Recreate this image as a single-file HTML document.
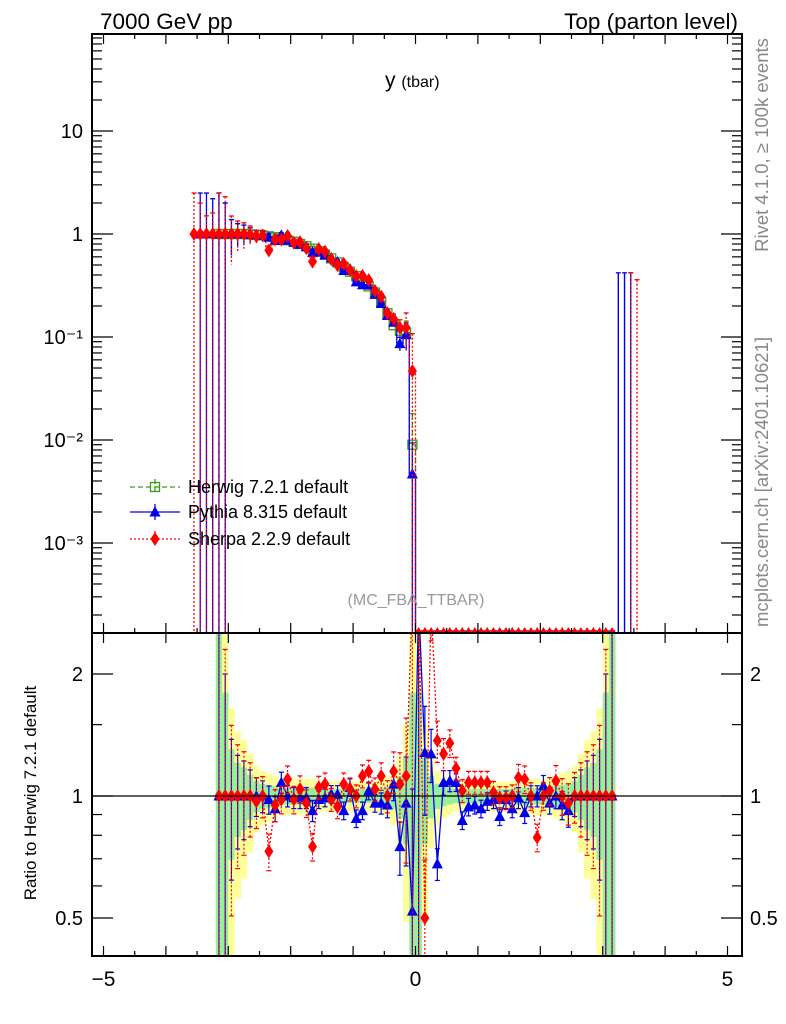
<!DOCTYPE html>
<html><head><meta charset="utf-8"><style>
html,body{margin:0;padding:0;background:#fff;}
svg{display:block;font-family:"Liberation Sans",Arial,sans-serif;}
</style></head><body>
<svg id="chart" width="786" height="1024" viewBox="0 0 786 1024">
<defs>
<clipPath id="clipMain"><rect x="92" y="34" width="650" height="599"/></clipPath>
<clipPath id="clipRatio"><rect x="92" y="633" width="650" height="323"/></clipPath>
</defs>
<g id="bands" clip-path="url(#clipRatio)"></g>
<g id="mainMarks" clip-path="url(#clipMain)"></g>
<g id="ratioMarks" clip-path="url(#clipRatio)"></g>
<g id="axes"></g>
<text x="100" y="29" font-size="22.5">7000 GeV pp</text>
<text x="738" y="29" font-size="22.5" text-anchor="end">Top (parton level)</text>
<text x="385" y="87" font-size="21">y <tspan font-size="16">(tbar)</tspan></text>
<text x="416" y="605" font-size="16" fill="#999" text-anchor="middle">(MC_FBA_TTBAR)</text>
<text transform="translate(768,145) rotate(-90)" font-size="18.5" fill="#888" text-anchor="middle">Rivet 4.1.0, ≥ 100k events</text>
<text transform="translate(768,482) rotate(-90)" font-size="18.5" fill="#888" text-anchor="middle">mcplots.cern.ch [arXiv:2401.10621]</text>
<text transform="translate(36,793) rotate(-90)" font-size="17" text-anchor="middle">Ratio to Herwig 7.2.1 default</text>
<g id="legend"></g>
</svg>
<script>
// bins of width 0.1 from -3.6 to 3.6 (main plot), centers -3.55 + 0.1*i
const binCount = 72;
const binStart = -3.6;
const binWidth = 0.1;
// Herwig main values (index 0..71); 0 = empty bin, tiny = below axis
const herwig = [0,0,0,0,
 1.0,1.0,1.0,1.0,1.0,0.99,0.98,0.97,0.95,0.93,0.9,0.87,0.84,0.8,0.76,0.72,0.68,0.63,0.58,0.53,0.48,0.43,0.39,0.35,0.31,0.27,0.22,0.17,0.13,0.115,0.11,0.009,
 1e-5,1e-5,1e-5,1e-5,1e-5,1e-5,1e-5,1e-5,1e-5,1e-5,1e-5,1e-5,1e-5,1e-5,1e-5,1e-5,1e-5,1e-5,1e-5,1e-5,1e-5,1e-5,1e-5,1e-5,1e-5,1e-5,1e-5,1e-5,1e-5,1e-5,1e-5,1e-5,
 0,0,0,0];
const pythiaLead = [0,1.0,1.0,1.0];
const sherpaLead = [1.0,1.0,1.0,1.0];
const pythiaLeadTop = [0,2.5,2.5,2.2];
const sherpaLeadTop = [2.5,2.0,1.5,1.6];
// extra spike error bars at the far right of main plot: [bin, top]
const pythiaSpikes = [[68,0.42],[69,0.42],[70,0.42]];
const sherpaSpikes = [[70,0.42],[71,0.36]];
// ratio bins k=0..63 correspond to main bins 4..67
const ratioPythia = [1,1,1,1,1,1,1.0,1.0,0.98,0.93,1.08,1.0,0.99,0.99,0.99,0.92,0.98,0.99,1.01,1.01,0.92,1.05,0.88,0.92,1.03,0.96,0.96,0.95,1.07,0.75,0.96,0.52,
 3.0,1.28,1.27,0.68,1.08,1.09,1.08,0.87,0.94,0.95,0.93,0.97,0.98,0.89,0.98,0.93,0.99,0.91,1.0,1.0,1.06,0.96,1.0,0.95,0.92,1,1,1,1,1,1,1];
const ratioSherpa = [1,1,1,1,1,1,0.97,1.0,0.73,0.95,0.98,1.1,0.98,1.04,0.96,0.75,1.05,1.07,0.98,0.94,1.07,1.04,1.0,1.12,1.15,1.04,1.12,1.0,1.15,1.07,1.12,5.2,
 3.0,0.5,3.0,1.37,1.27,1.35,1.17,1.03,1.08,1.08,1.08,1.08,1.02,0.99,0.99,1.0,1.11,1.1,1.0,0.79,1.0,1.03,1.09,1.0,0.96,1,1,1,1,1,1,1];
// relative uncertainties per ratio bin
const relErr = [3,1.0,0.38,0.26,0.22,0.16,0.11,0.09,0.08,0.07,0.06,0.06,0.06,0.06,0.06,0.06,0.05,0.05,0.05,0.05,0.05,0.05,0.05,0.05,0.05,0.05,0.06,0.07,0.09,0.15,0.3,1.0,
 1.0,0.3,0.15,0.09,0.07,0.06,0.05,0.05,0.05,0.05,0.05,0.05,0.05,0.05,0.05,0.05,0.06,0.06,0.06,0.06,0.06,0.06,0.07,0.08,0.09,0.11,0.16,0.22,0.26,0.38,1.0,3];
const xTicks = [-5,0,5];
const mainTickLabels = ["10","1","10⁻¹","10⁻²","10⁻³"];
const mainTickValues = [10,1,0.1,0.01,0.001];
const ratioTickValues = [2,1,0.5];
const ratioTickLabels = ["2","1","0.5"];

const NS="http://www.w3.org/2000/svg";
const X0=415.5, XS=62.4, L=92, R=742, MT=34, MB=633, RB=956;
const xs=c=>X0+XS*c;
const ym=v=>v>0?234-103*Math.log10(v):MB+50;
const yr=r=>r>0?796-122*Math.log2(r):RB+50;
const cl=(y,a,b)=>Math.max(a,Math.min(b,y));
function mk(tag,attrs,parent){const e=document.createElementNS(NS,tag);for(const k in attrs)e.setAttribute(k,attrs[k]);parent.appendChild(e);return e;}
const gMain=document.getElementById('mainMarks'), gRatio=document.getElementById('ratioMarks'), gBand=document.getElementById('bands'), gAx=document.getElementById('axes'), gLeg=document.getElementById('legend');
const center=i=>binStart+binWidth*(i+0.5);

const pythia=[], sherpa=[];
for(let i=0;i<binCount;i++){
  if(i<4){pythia.push(pythiaLead[i]);sherpa.push(sherpaLead[i]);}
  else if(i<68){pythia.push(herwig[i]*ratioPythia[i-4]);sherpa.push(herwig[i]*ratioSherpa[i-4]);}
  else {pythia.push(0);sherpa.push(0);}
}
function mainY(v){return v>0?cl(ym(v),MT,MB-2):null;}

function marker(type,x,y,parent,color){
  let e;
  if(type==='sq') e=mk('rect',{x:x-4.5,y:y-4.5,width:9,height:9,fill:'none',stroke:color,'stroke-width':1.3},parent);
  else if(type==='tri') e=mk('path',{d:`M${x-5.5},${y+4.5}L${x+5.5},${y+4.5}L${x},${y-6}Z`,fill:color},parent);
  else e=mk('path',{d:`M${x},${y-7}L${x+4.5},${y}L${x},${y+7}L${x-4.5},${y}Z`,fill:color},parent);
  return e;
}
const series=[
 {name:'herwig',vals:herwig,color:'#3c9a1c',dash:'5,3',m:'sq',ef:1.0,ratio:null},
 {name:'pythia',vals:pythia,color:'#0000ee',dash:'',m:'tri',ef:1.0,ratio:ratioPythia},
 {name:'sherpa',vals:sherpa,color:'#ff0000',dash:'2,2',m:'dia',ef:1.3,ratio:ratioSherpa}
];

// bands
for(let k=0;k<64;k++){
  const x1=xs(center(k+4)-0.05), w=XS*binWidth;
  const ey=relErr[k]*1.7, eg=relErr[k]*0.8;
  const y1=cl(yr(1+ey),633,RB), y2=cl(yr(Math.max(1-ey,0.01)),633,RB);
  const r1=mk('rect',{x:x1,y:y1,width:w+0.3,height:y2-y1,fill:'#ffff99'},gBand);
  
  
  const g1=cl(yr(1+eg),633,RB), g2=cl(yr(Math.max(1-eg,0.01)),633,RB);
  const r2=mk('rect',{x:x1,y:g1,width:w+0.3,height:g2-g1,fill:'#99ee99'},gBand);
  
  
}

series.forEach(s=>{
  let d='';let prev=null;
  for(let i=0;i<binCount;i++){
    const y=mainY(s.vals[i]);
    if(y===null){prev=null;continue;}
    const xa=xs(center(i)-0.05), xb=xs(center(i)+0.05);
    d+= (prev===null?`M${xa},${y}`:`L${xa},${y}`)+`L${xb},${y}`;prev=y;
  }
  const p=mk('path',{d:d,fill:'none',stroke:s.color,'stroke-width':1.3,'stroke-dasharray':s.dash},gMain);
  
  
  for(let i=0;i<binCount;i++){
    const v=s.vals[i]; if(!(v>0)) continue;
    const x=xs(center(i));
    let top,bot;
    if(i<4){top=(s.name==='pythia'?pythiaLeadTop:sherpaLeadTop)[i];bot=0;}
    else if(i<68){const e=relErr[i-4]*s.ef;top=Math.min(v*(1+e),2.5);bot=v*(1-e);}
    else {top=v;bot=v;}
    if(v>0.001 && top>v){
      const ya=cl(ym(top),MT,MB), yb=bot>0?cl(ym(bot),MT,MB):MB;
      const eb=mk('line',{x1:x,x2:x,y1:ya,y2:yb,stroke:s.color,'stroke-width':1.3,'stroke-dasharray':s.dash},gMain);
      
      
      mk('line',{x1:x-2.5,x2:x+2.5,y1:ya,y2:ya,stroke:s.color,'stroke-width':1.3},gMain);
    }
    const y=mainY(v);
    if(v>1e-4){const m=marker(s.m,x,y,gMain,s.color);
      
      }
    else if(s.name==='sherpa'){const m=mk('path',{d:`M${x-3},${MB-1}L${x+3},${MB-1}L${x},${MB-6}Z`,fill:s.color},gMain);
      
      }
  }
  const sp=s.name==='pythia'?pythiaSpikes:(s.name==='sherpa'?sherpaSpikes:[]);
  sp.forEach(([i,t])=>{
    const x=xs(center(i)); const ya=ym(t);
    const l=mk('line',{x1:x,x2:x,y1:ya,y2:MB,stroke:s.color,'stroke-width':1.4,'stroke-dasharray':s.dash},gMain);
    
    
    mk('line',{x1:x-2.5,x2:x+2.5,y1:ya,y2:ya,stroke:s.color,'stroke-width':1.3},gMain);
  });
  if(s.ratio){
    let pts=[];
    for(let k=0;k<64;k++){
      const r=s.ratio[k], x=xs(center(k+4)), e=relErr[k]*s.ef;
      const y=yr(r); pts.push(x+','+cl(y,600,990));
      const ya=yr(r*(1+e)), yb=r*(1-e)>0?yr(r*(1-e)):RB+20;
      const eb=mk('line',{x1:x,x2:x,y1:ya,y2:yb,stroke:s.color,'stroke-width':1.2,'stroke-dasharray':s.dash},gRatio);
      
      
      mk('line',{x1:x-2.5,x2:x+2.5,y1:ya,y2:ya,stroke:s.color,'stroke-width':1.2},gRatio);
      mk('line',{x1:x-2.5,x2:x+2.5,y1:yb,y2:yb,stroke:s.color,'stroke-width':1.2},gRatio);
    }
    const pl=mk('polyline',{points:pts.join(' '),fill:'none',stroke:s.color,'stroke-width':1.3,'stroke-dasharray':s.dash},gRatio);
    
    
    for(let k=0;k<64;k++){
      const m=marker(s.m,xs(center(k+4)),yr(s.ratio[k]),gRatio,s.color);
      
      
    }
  }
});
const ul=mk('line',{x1:L,x2:R,y1:yr(1),y2:yr(1),stroke:'#000','stroke-width':1.3},gRatio);



[[MT,MB,'main-frame'],[MB,RB,'ratio-frame']].forEach(([a,b,n])=>{
  const r=mk('rect',{x:L,y:a,width:R-L,height:b-a,fill:'none',stroke:'#000','stroke-width':2},gAx);
  
  
});
for(let t=-5;t<=5.01;t+=0.5){
  const x=xs(t), major=Math.abs(t-Math.round(t))<1e-6, len=major?10:5;
  [[MB,-1],[RB,-1],[MT,1]].forEach(([y,dir])=>mk('line',{x1:x,x2:x,y1:y,y2:y+dir*len,stroke:'#000','stroke-width':1.2},gAx));
  if(major) mk('line',{x1:x,x2:x,y1:MB,y2:MB+len,stroke:'#000','stroke-width':1.2},gAx);
}
xTicks.forEach(t=>{
  const tx=mk('text',{x:xs(t),y:986,'font-size':21,'text-anchor':'middle'},gAx);
  tx.textContent=(t<0?'−':'')+Math.abs(t);
  
  
});
for(let dec=-4;dec<=1;dec++){
  for(let m=1;m<=9;m++){
    const v=m*Math.pow(10,dec), y=ym(v); if(y<MT||y>MB) continue;
    const len=m===1?21:10;
    mk('line',{x1:L,x2:L+len,y1:y,y2:y,stroke:'#000','stroke-width':1.2},gAx);
    mk('line',{x1:R,x2:R-len,y1:y,y2:y,stroke:'#000','stroke-width':1.2},gAx);
  }
}
mainTickValues.forEach((v,j)=>{
  const tx=mk('text',{x:83,y:ym(v)+7,'font-size':20,'text-anchor':'end'},gAx);
  tx.textContent=mainTickLabels[j];
  
  
});
[0.5,0.6,0.7,0.8,0.9,1,1.5,2].forEach(v=>{
  const y=yr(v), len=(v===0.5||v===1||v===2)?21:10;
  mk('line',{x1:L,x2:L+len,y1:y,y2:y,stroke:'#000','stroke-width':1.2},gAx);
  mk('line',{x1:R,x2:R-len,y1:y,y2:y,stroke:'#000','stroke-width':1.2},gAx);
});
ratioTickValues.forEach((v,j)=>{
  const y=yr(v)+7;
  const a=mk('text',{x:83,y:y,'font-size':20,'text-anchor':'end'},gAx);a.textContent=ratioTickLabels[j];
  
  
  const b=mk('text',{x:750,y:y,'font-size':20},gAx);b.textContent=ratioTickLabels[j];
  
  
});
const legItems=[['Herwig 7.2.1 default',0,487],['Pythia 8.315 default',1,512],['Sherpa 2.2.9 default',2,539]];
legItems.forEach(([label,si,y])=>{
  const s=series[si];
  const g=mk('g',{},gLeg);
  
  
  mk('line',{x1:130,x2:180,y1:y,y2:y,stroke:s.color,'stroke-width':1.3,'stroke-dasharray':s.dash},g);
  mk('line',{x1:155,x2:155,y1:y-8,y2:y+8,stroke:s.color,'stroke-width':1.3,'stroke-dasharray':s.dash},g);
  marker(s.m,155,y,g,s.color);
  const t=mk('text',{x:188,y:y+6,'font-size':18},g);t.textContent=label;
});
</script>
</body></html>
